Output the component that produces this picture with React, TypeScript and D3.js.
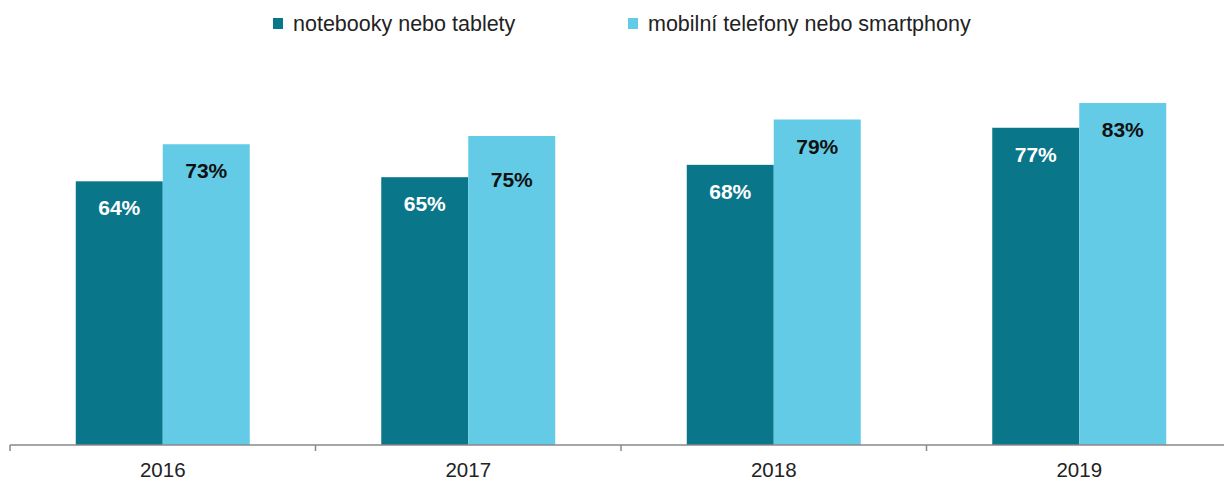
import React from "react";
import * as d3 from "d3";

const years = ["2016", "2017", "2018", "2019"];
const seriesNames = ["notebooky nebo tablety", "mobilní telefony nebo smartphony"];
const notebooky = [64, 65, 68, 77];
const mobilni = [73, 75, 79, 83];
const colors = ["#0a768a", "#63cbe6"];
const labelColors = ["#ffffff", "#111111"];
// extra vertical offset of individual value labels (as placed in the original)
const labelShift = [
  [0, 0, 0, 0],
  [0, 17, 0, 0],
];

export default function App() {
  const W = 1224, H = 480;
  const baseY = 445;
  const x0 = d3.scaleBand<string>().domain(years).range([10, 1232]).padding(0);
  const x1 = d3.scaleBand<string>().domain(seriesNames).range([0, x0.bandwidth()]).paddingInner(0).paddingOuter(0.756);
  const y = d3.scaleLinear().domain([0, 100]).range([baseY, 33]);
  const data = [notebooky, mobilni];
  const font = "'Liberation Sans', Arial, sans-serif";
  const legendX = [273, 628];
  return (
    <svg width={W} height={H} style={{ position: "absolute", left: 0, top: 0 }} fontFamily={font}>
      <rect x={0} y={0} width={W} height={H} fill="#fff" />
      {seriesNames.map((s, i) => (
        <g key={s}>
          <rect x={legendX[i]} y={18} width={10} height={11} fill={colors[i]} />
          <text x={legendX[i] + 20} y={31} fontSize={21.5} fill="#222">{s}</text>
        </g>
      ))}
      {years.map((yr, yi) => (
        <g key={yr} transform={`translate(${x0(yr)},0)`}>
          {seriesNames.map((s, si) => {
            const v = data[si][yi];
            const bx = x1(s)!;
            const bw = x1.bandwidth();
            return (
              <g key={s}>
                <rect x={bx} y={y(v)} width={bw} height={baseY - y(v)} fill={colors[si]} />
                <text x={bx + bw / 2} y={y(v) + 34 + labelShift[si][yi]} textAnchor="middle" fontSize={21} fontWeight="bold" fill={labelColors[si]}>{v}%</text>
              </g>
            );
          })}
          <text x={x0.bandwidth() / 2} y={477} textAnchor="middle" fontSize={20.5} fill="#222">{yr}</text>
        </g>
      ))}
      <line x1={10} x2={1232} y1={baseY} y2={baseY} stroke="#888" strokeWidth={1.5} />
      {years.map((yr) => (
        <line key={yr} x1={x0(yr)} x2={x0(yr)} y1={baseY} y2={baseY + 6} stroke="#888" strokeWidth={1.5} />
      ))}
    </svg>
  );
}
